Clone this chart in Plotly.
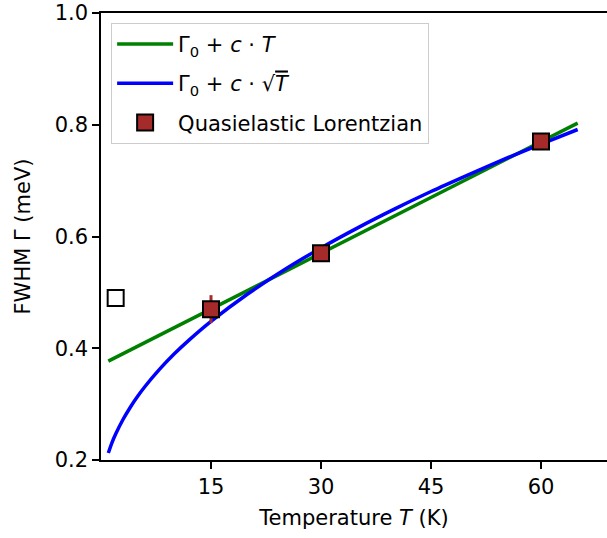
import plotly.graph_objects as go

# Measured linewidths
temps = [15, 30, 60]
fwhm = [0.47, 0.57, 0.77]
fwhm_err = [0.025, 0.012, 0.012]

# Resolution-limited reference point
ref_temp = [2]
ref_fwhm = [0.49]

# Linear fit  Γ0 + c·T
lin_T = [1, 65]
lin_G = [0.377, 0.803]

# Square-root fit  Γ0 + c·√T
sqrt_T = [1, 1.5, 2, 3, 4, 5, 6, 8, 10, 12, 15, 20, 25, 30, 35, 40, 45, 50, 55, 60, 65]
sqrt_G = [0.2125, 0.231, 0.2465, 0.2725, 0.2945, 0.314, 0.3315, 0.3625, 0.390, 0.4145,
          0.448, 0.497, 0.5405, 0.5795, 0.6155, 0.649, 0.6805, 0.710, 0.7385, 0.7655, 0.7915]

x_ticks = [15, 30, 45, 60]
y_ticks = [0.2, 0.4, 0.6, 0.8, 1.0]

FONT = "DejaVu Sans"
FS = 21

fig = go.Figure()

fig.add_trace(go.Scatter(
    x=lin_T, y=lin_G, mode="lines",
    line=dict(color="green", width=3.5),
    name="Γ<sub>0</sub> + <i>c</i> · <i>T</i>", legendgroup="a",
))
fig.add_trace(go.Scatter(
    x=sqrt_T, y=sqrt_G, mode="lines",
    line=dict(color="blue", width=3.5, shape="spline", smoothing=0.8),
    name="Γ<sub>0</sub> + <i>c</i> · √<span style='text-decoration:overline'><i>T</i></span>",
    legendgroup="b",
))
fig.add_trace(go.Scatter(
    x=ref_temp, y=ref_fwhm, mode="markers",
    marker=dict(symbol="square", size=16, color="white",
                line=dict(color="black", width=2)),
    showlegend=False,
))
fig.add_trace(go.Scatter(
    x=temps, y=fwhm, mode="markers",
    marker=dict(symbol="square", size=16, color="#a52a2a",
                line=dict(color="black", width=2)),
    error_y=dict(type="data", array=fwhm_err, color="#a52a2a", thickness=3, width=0),
    name="Quasielastic Lorentzian", legendgroup="c",
))

fig.update_layout(
    width=607, height=538,
    margin=dict(l=101, r=0, t=13, b=78),
    plot_bgcolor="white", paper_bgcolor="white",
    font=dict(family=FONT, size=FS, color="black"),
    showlegend=True,
    legend=dict(
        x=0.02, y=0.978, xanchor="left", yanchor="top",
        bgcolor="rgba(255,255,255,0.8)", bordercolor="#cccccc", borderwidth=1,
        font=dict(family=FONT, size=FS, color="black"),
        tracegroupgap=9, itemwidth=56,
    ),
    xaxis=dict(
        range=[0, 69.0], tickvals=x_ticks, ticktext=[str(v) for v in x_ticks],
        showgrid=False, zeroline=False,
        showline=True, linecolor="black", linewidth=1.5, mirror=True,
        ticks="outside", ticklen=7, tickwidth=1.5, tickcolor="black",
        tickfont=dict(family=FONT, size=FS),
        title=dict(text="Temperature <i>T</i> (K)", standoff=12,
                   font=dict(family=FONT, size=FS)),
    ),
    yaxis=dict(
        range=[0.2, 1.0], tickvals=y_ticks, ticktext=[f"{v:.1f}" for v in y_ticks],
        showgrid=False, zeroline=False,
        showline=True, linecolor="black", linewidth=1.5,
        ticks="outside", ticklen=7, tickwidth=1.5, tickcolor="black",
        tickfont=dict(family=FONT, size=FS),
        title=dict(text="FWHM Γ (meV)", standoff=18,
                   font=dict(family=FONT, size=FS)),
    ),
)

fig.write_html("out.html")
